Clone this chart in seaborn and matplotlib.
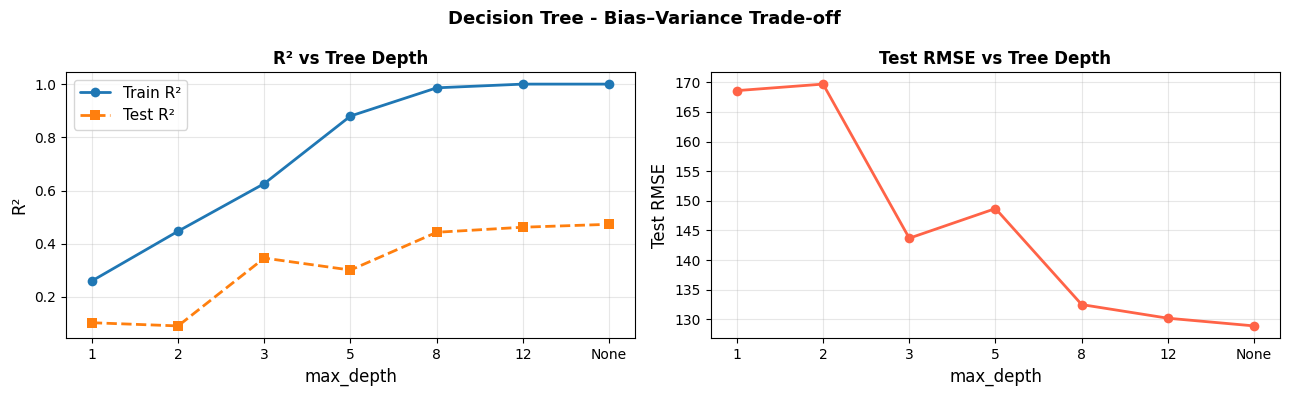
import matplotlib
matplotlib.use('Agg')
import matplotlib.pyplot as plt
import seaborn as sns

# Values
depth_labels = ['1', '2', '3', '5', '8', '12', 'None']
train_r2 = [0.26, 0.447, 0.626, 0.88, 0.986, 1.0, 1.0]
test_r2 = [0.103, 0.091, 0.346, 0.301, 0.443, 0.462, 0.473]
test_rmse = [168.6, 169.7, 143.7, 148.7, 132.5, 130.2, 128.9]

# Plain matplotlib look: black text, thin black spines, grey grid
sns.set_style('ticks', rc={
    'axes.edgecolor': 'black',
    'axes.linewidth': 0.8,
    'text.color': 'black',
    'axes.labelcolor': 'black',
    'xtick.color': 'black',
    'ytick.color': 'black',
    'xtick.major.width': 0.8,
    'ytick.major.width': 0.8,
    'xtick.major.size': 3.5,
    'ytick.major.size': 3.5,
    'grid.color': '#b0b0b0',
})
plt.rcParams['font.family'] = ['DejaVu Sans']

fig, axes = plt.subplots(1, 2, figsize=(12.89, 3.97), dpi=100)

# R² plot
ax = axes[0]
sns.lineplot(x=depth_labels, y=train_r2, marker='o', color='#1f77b4', linewidth=2,
             markersize=7, markeredgewidth=0, label='Train R²', ax=ax)
sns.lineplot(x=depth_labels, y=test_r2, marker='s', color='#ff7f0e', linewidth=2,
             linestyle='--', markersize=7, markeredgewidth=0, label='Test R²', ax=ax)
ax.set_title('R² vs Tree Depth', fontweight='bold', fontsize=12)
ax.set_xlabel('max_depth', fontsize=12)
ax.set_ylabel('R²', fontsize=12)
ax.grid(True, alpha=0.3)
ax.legend(fontsize=11, loc='upper left')

# RMSE plot
ax = axes[1]
sns.lineplot(x=depth_labels, y=test_rmse, marker='o', color='tomato', linewidth=2,
             markersize=7, markeredgewidth=0, ax=ax)
ax.set_title('Test RMSE vs Tree Depth', fontweight='bold', fontsize=12)
ax.set_xlabel('max_depth', fontsize=12)
ax.set_ylabel('Test RMSE', fontsize=12)
ax.grid(True, alpha=0.3)

fig.suptitle('Decision Tree - Bias–Variance Trade-off', fontweight='bold', fontsize=13, y=0.975)
plt.subplots_adjust(left=0.0512, right=0.993, top=0.8186, bottom=0.1486, wspace=0.1336)
plt.savefig('out.png', dpi=100)
